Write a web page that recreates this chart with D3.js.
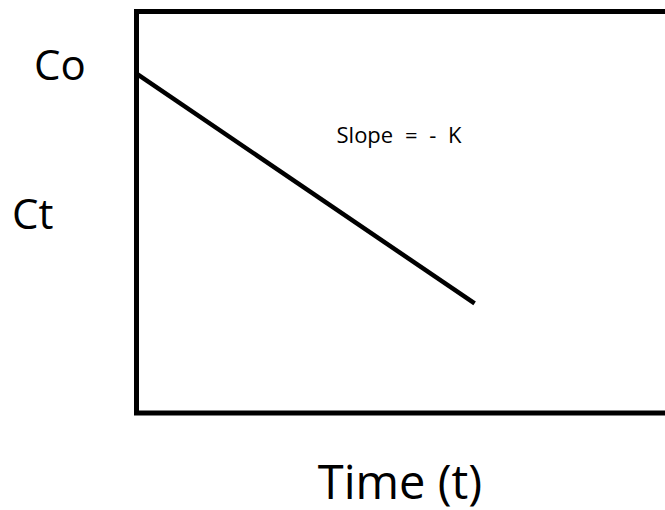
<!DOCTYPE html>
<html>
<head>
<meta charset="utf-8">
<script src="https://cdn.jsdelivr.net/npm/d3@7"></script>
<style>
  body { margin: 0; background: #fff; }
  svg { display: block; }
  text { font-family: "Open Sans", sans-serif; fill: #000; }
</style>
</head>
<body>
<script>
  var width = 665;
  var height = 510;

  // data: ln C falls linearly with time
  var times = [0, 6];
  var lnConc = [8.45, 2.73];
  var yLabels = ['Co', 'Ct'];
  var yLabelValues = [8.45, 4.72];
  var slopeLabel = 'Slope = - K';
  var xTitle = 'Time (t)';

  var svg = d3.select('body').append('svg')
    .attr('width', width)
    .attr('height', height);

  // scales
  var xScale = d3.scaleLinear()
    .domain([0, 10])
    .range([136.5, 700]);
  var yScale = d3.scaleLinear()
    .domain([0, 10])
    .range([413, 11.5]);

  // frame (right side runs off the page)
  svg.append('rect')
    .attr('x', xScale(0))
    .attr('y', yScale(10))
    .attr('width', xScale(10) - xScale(0))
    .attr('height', yScale(0) - yScale(10))
    .attr('fill', 'none')
    .attr('stroke', '#000')
    .attr('stroke-width', 5);

  var points = times.map(function(t, i) { return [t, lnConc[i]]; });

  var line = d3.line()
    .x(d => xScale(d[0]))
    .y(d => yScale(d[1]));

  svg.append('path')
    .datum(points)
    .attr('d', line)
    .attr('fill', 'none')
    .attr('stroke', '#000')
    .attr('stroke-width', 4.5);

  // y labels
  svg.selectAll('.ylab')
    .data(yLabels)
    .enter().append('text')
    .attr('class', 'ylab')
    .attr('x', (d, i) => i === 0 ? 34 : 12)
    .attr('y', (d, i) => yScale(yLabelValues[i]) + 6)
    .style('font-size', '42px')
    .text(d => d);

  svg.append('text')
    .attr('x', 399)
    .attr('y', 143)
    .attr('text-anchor', 'middle')
    .style('font-size', '22px')
    .style('word-spacing', '6px')
    .text(slopeLabel);

  svg.append('text')
    .attr('x', 400)
    .attr('y', 499)
    .attr('text-anchor', 'middle')
    .style('font-size', '47px')
    .text(xTitle);
</script>
</body>
</html>
